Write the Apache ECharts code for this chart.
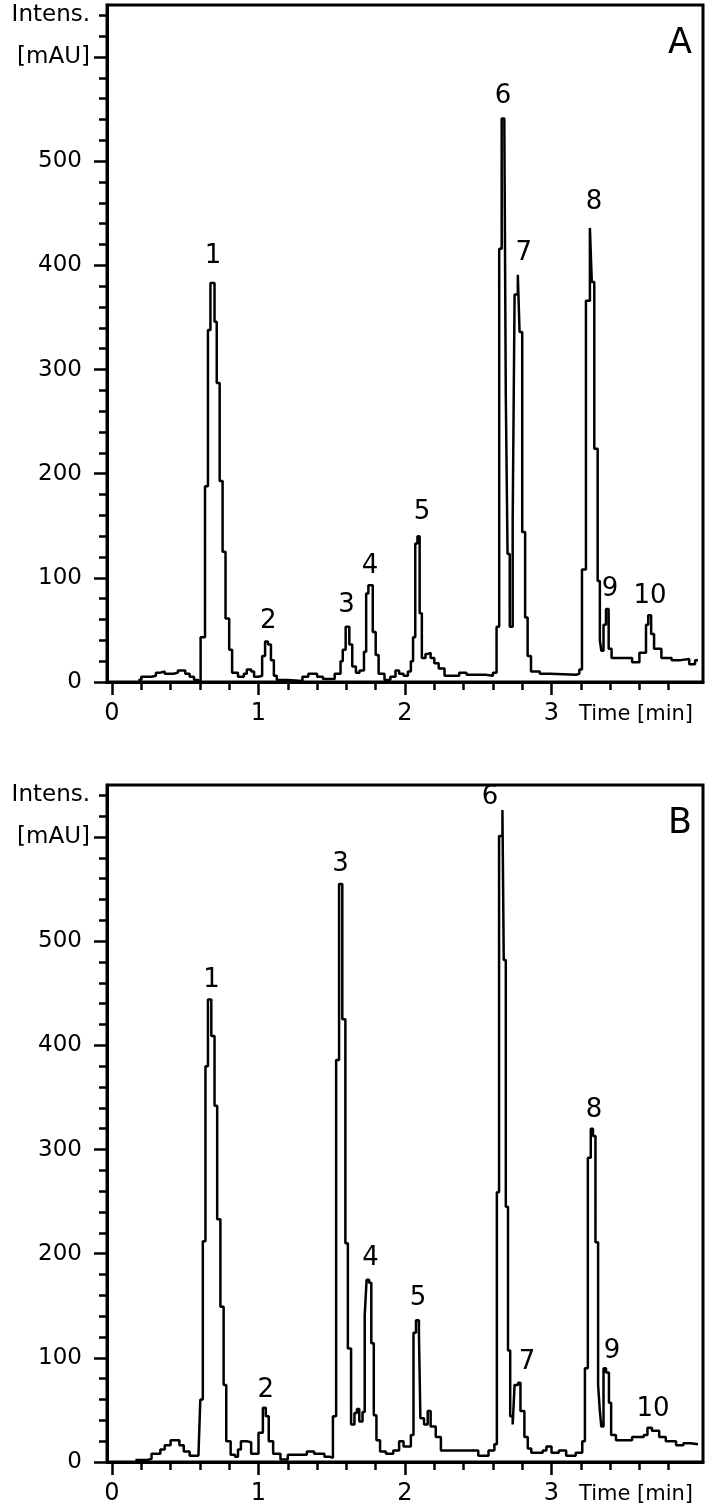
<!DOCTYPE html>
<html>
<head>
<meta charset="utf-8">
<script src="https://cdn.jsdelivr.net/npm/echarts@6/dist/echarts.min.js"></script>
<style>
  html, body { margin: 0; padding: 0; background: #fff; }
  #main { width: 712px; height: 1512px; }
</style>
</head>
<body>
<div id="main"></div>
<script>
// chromatogram A, [time min, intensity mAU], level holds until next point
var traceA = [
  [0.18, 2], [0.20, 5], [0.27, 6], [0.30, 9], [0.33, 10], [0.36, 8], [0.42, 9], [0.45, 11], [0.50, 8],
  [0.53, 5], [0.56, 2], [0.59, 0],
  [0.605, 43], [0.635, 188], [0.655, 338], [0.672, 383], [0.70, 346], [0.715, 287], [0.735, 193],
  [0.755, 125], [0.775, 61], [0.80, 31], [0.82, 9], [0.86, 5], [0.90, 8], [0.92, 12], [0.95, 10],
  [0.97, 5], [1.00, 6],
  [1.025, 25], [1.045, 39], [1.065, 36], [1.085, 21], [1.105, 6], [1.125, 2], [1.20, 1], [1.30, 5],
  [1.34, 8], [1.40, 5], [1.44, 3], [1.48, 3],
  [1.52, 8], [1.56, 20], [1.575, 31], [1.595, 53], [1.62, 36], [1.64, 15], [1.665, 9], [1.69, 11],
  [1.72, 29], [1.735, 85], [1.75, 93], [1.78, 48], [1.80, 26], [1.82, 8], [1.86, 2], [1.90, 5],
  [1.935, 11], [1.96, 8], [1.99, 6], [2.02, 10], [2.04, 20],
  [2.055, 43], [2.07, 133], [2.085, 140], [2.10, 66], [2.115, 23], [2.14, 27], [2.155, 28], [2.175, 23],
  [2.20, 18], [2.23, 13], [2.27, 6], [2.33, 6], [2.37, 9], [2.42, 7], [2.49, 7], [2.55, 6], [2.60, 9],
  [2.625, 53], [2.643, 416], [2.66, 541], [2.678, 535], [2.688, 275], [2.70, 123], [2.715, 53],
  [2.735, 156], [2.748, 372], [2.77, 391], [2.782, 336], [2.80, 144], [2.82, 62], [2.837, 25],
  [2.86, 10], [2.92, 8], [2.99, 7], [3.17, 8], [3.19, 12],
  [3.208, 108], [3.235, 366], [3.262, 436], [3.275, 384], [3.292, 224], [3.315, 97], [3.33, 40], [3.34, 30],
  [3.355, 55], [3.372, 70], [3.39, 32], [3.41, 23], [3.50, 23], [3.55, 19], [3.60, 28],
  [3.645, 55], [3.66, 64], [3.68, 46], [3.70, 32], [3.75, 23], [3.82, 21], [3.88, 22], [3.94, 17],
  [3.98, 21], [4.00, 21]
]

// chromatogram B
var traceB = [
  [0.16, 2], [0.24, 3], [0.27, 8], [0.33, 12], [0.36, 16], [0.40, 21], [0.46, 16], [0.49, 10],
  [0.53, 6], [0.59, 6],
  [0.603, 60], [0.62, 212], [0.638, 380], [0.655, 444], [0.678, 409], [0.70, 342], [0.718, 233],
  [0.74, 149], [0.762, 74], [0.78, 20], [0.81, 7], [0.84, 5], [0.86, 12], [0.88, 20], [0.92, 19], [0.95, 8],
  [1.00, 28], [1.03, 52], [1.05, 44], [1.07, 20], [1.10, 8], [1.15, 2.5], [1.20, 7], [1.28, 7],
  [1.33, 10], [1.38, 8], [1.45, 5], [1.49, 4],
  [1.508, 44], [1.53, 386], [1.55, 555], [1.572, 425], [1.593, 210], [1.61, 109], [1.632, 36],
  [1.655, 47], [1.672, 51], [1.688, 39], [1.71, 48],
  [1.725, 141], [1.738, 175], [1.755, 172], [1.77, 114], [1.787, 45], [1.805, 21], [1.83, 10],
  [1.87, 8], [1.92, 11], [1.96, 20], [1.99, 15], [2.02, 15],
  [2.04, 26], [2.058, 124], [2.075, 136], [2.095, 124], [2.105, 42], [2.13, 36], [2.155, 49],
  [2.175, 34], [2.21, 24], [2.245, 11], [2.44, 11], [2.50, 6], [2.57, 11], [2.61, 17],
  [2.627, 259], [2.642, 601], [2.665, 626], [2.674, 482], [2.688, 245], [2.703, 107], [2.718, 44], [2.735, 36],
  [2.748, 74], [2.772, 76], [2.788, 49], [2.815, 24], [2.838, 13], [2.862, 9], [2.94, 11], [2.965, 15],
  [3.00, 9], [3.05, 11], [3.10, 6], [3.165, 9], [3.21, 20],
  [3.228, 90], [3.248, 292], [3.268, 320], [3.283, 313], [3.30, 211], [3.318, 74], [3.33, 49], [3.34, 34],
  [3.355, 90], [3.372, 86], [3.392, 57], [3.407, 26], [3.44, 21], [3.55, 24], [3.63, 26],
  [3.655, 33], [3.685, 30], [3.735, 24], [3.78, 20], [3.85, 16], [3.90, 18], [3.95, 17], [4.00, 17]
]

var peakNames = ['1', '2', '3', '4', '5', '6', '7', '8', '9', '10']
// where each peak number sits, in time / intensity units
var peakLabelA = [[0.69, 409], [1.067, 58], [1.60, 74], [1.761, 111], [2.116, 163],
  [2.669, 562], [2.81, 412], [3.29, 461], [3.40, 89], [3.672, 82]]
var peakLabelB = [[0.68, 463], [1.049, 69], [1.56, 574], [1.765, 196], [2.089, 157],
  [2.58, 638], [2.833, 96], [3.29, 338], [3.413, 106], [3.693, 51]]

var panelNames = ['A', 'B']
var xMajorTicks = [0, 1, 2, 3]
var xMinorTicks = [0.2, 0.4, 0.6, 0.8, 1.2, 1.4, 1.6, 1.8, 2.2, 2.4, 2.6, 2.8, 3.2, 3.4, 3.6, 3.8]
var yMajorTicks = [0, 100, 200, 300, 400, 500, 600]
var yLabelTicks = [0, 100, 200, 300, 400, 500]
var yMinorTicks = [20, 40, 60, 80, 120, 140, 160, 180, 220, 240, 260, 280, 320, 340, 360, 380,
  420, 440, 460, 480, 520, 540, 560, 580, 620, 640]
var yTitleTicks = [600, 640]
var yTitles = { 600: '[mAU]', 640: 'Intens.' }

var font = 'DejaVu Sans'
var black = '#000'
var textColor = '#000'
var gridTops = [5, 785]
var plotHeight = 677

var chart = echarts.init(document.getElementById('main'))

function makeOption() {
  var grids = [], xAxes = [], yAxes = [], series = [], titles = []
  var traces = [traceA, traceB]
  var labelPos = [peakLabelA, peakLabelB]

  for (var i = 0; i < 2; i++) {
    grids.push({
      left: 107, right: 9, top: gridTops[i], height: plotHeight,
      show: true, borderColor: black, borderWidth: 3,
      outerBoundsMode: 'none'
    })

    // major x ticks + labels
    xAxes.push({
      type: 'value', gridIndex: i, position: 'bottom', min: -0.034, max: 4.034,
      axisLine: { show: true, onZero: false, lineStyle: { color: black, width: 3 } },
      axisTick: { show: true, length: 13, customValues: xMajorTicks, lineStyle: { color: black, width: 2.5 } },
      axisLabel: { customValues: xMajorTicks, margin: 20, color: textColor, fontFamily: font, fontSize: 24 },
      splitLine: { show: false },
      name: 'Time [min]', nameLocation: 'end', nameGap: -10,
      nameTextStyle: { align: 'right', verticalAlign: 'top', padding: [22, 0, 0, 0],
        color: textColor, fontFamily: font, fontSize: 21 }
    })
    // minor x ticks
    xAxes.push({
      type: 'value', gridIndex: i, position: 'bottom', min: -0.034, max: 4.034,
      axisLine: { show: false, onZero: false },
      axisTick: { show: true, length: 8, customValues: xMinorTicks, lineStyle: { color: black, width: 2.5 } },
      axisLabel: { show: false },
      splitLine: { show: false }
    })

    yAxes.push({
      type: 'value', gridIndex: i, position: 'left', min: 0, max: 650,
      axisLine: { show: true, onZero: false, lineStyle: { color: black, width: 3 } },
      axisTick: { show: true, length: 13, customValues: yMajorTicks, lineStyle: { color: black, width: 2.5 } },
      axisLabel: { customValues: yLabelTicks, margin: 25, color: textColor, fontFamily: font, fontSize: 23 },
      splitLine: { show: false }
    })
    yAxes.push({
      type: 'value', gridIndex: i, position: 'left', min: 0, max: 650,
      axisLine: { show: false, onZero: false },
      axisTick: { show: true, length: 8, customValues: yMinorTicks, lineStyle: { color: black, width: 2.5 } },
      axisLabel: {
        customValues: yTitleTicks, margin: 17, color: textColor, fontFamily: font, fontSize: 23,
        formatter: function (v) { return yTitles[v] || '' }
      },
      splitLine: { show: false }
    })

    series.push({
      type: 'line', xAxisIndex: i * 2, yAxisIndex: i * 2,
      data: traces[i], step: 'end', symbol: 'none', silent: true,
      lineStyle: { color: black, width: 2.5 }
    })

    series.push({
      type: 'scatter', xAxisIndex: i * 2, yAxisIndex: i * 2, symbolSize: 0, silent: true,
      itemStyle: { color: black, opacity: 1 },
      data: peakNames.map(function (n, k) { return { name: n, value: labelPos[i][k] } }),
      label: { show: true, position: 'inside', formatter: '{b}', color: textColor, opacity: 1,
        fontFamily: font, fontSize: 26 }
    })

    titles.push({
      text: panelNames[i], right: 20, top: gridTops[i] + 21, padding: 0,
      textStyle: { fontFamily: font, fontSize: 35, fontWeight: 'normal', color: textColor }
    })
  }

  return {
    backgroundColor: '#fff',
    animation: false,
    title: titles,
    grid: grids,
    xAxis: xAxes,
    yAxis: yAxes,
    series: series
  }
}

chart.setOption(makeOption())
</script>
</body>
</html>
